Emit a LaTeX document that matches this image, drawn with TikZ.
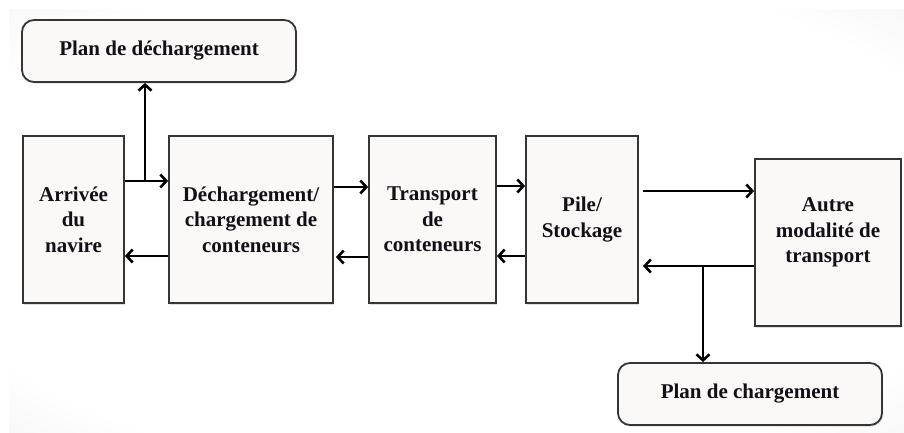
\documentclass[tikz,border=0pt]{standalone}
\usepackage{fontspec}
\setmainfont{Liberation Serif}
\usetikzlibrary{arrows.meta,shadows}
\pgfdeclareradialshading{pagebg}{\pgfpoint{0bp}{0bp}}{%
  color(0bp)=(white); color(30bp)=(white); color(50bp)=(black!10); color(72bp)=(black!18)}
\definecolor{boxfill}{HTML}{FBF9F8}
\definecolor{boxline}{HTML}{353535}
\definecolor{ink}{HTML}{101016}
\tikzset{
  stage/.style={draw=boxline, line width=1.8pt, fill=boxfill, align=center,
    font=\fontsize{21}{25.5}\selectfont\bfseries, text=ink, inner sep=0pt,
    drop shadow={shadow xshift=1.2pt, shadow yshift=-1.6pt, opacity=0.25}},
  planbox/.style={stage, rounded corners=12pt},
  flow/.style={draw=black, line width=2.8pt,
    -{Straight Barb[length=6pt,width=13pt,line width=2.6pt]}},
  caption/.style={align=center, font=\fontsize{21}{25.5}\selectfont\bfseries, text=ink, inner sep=0pt}
}
\begin{document}
\begin{tikzpicture}[x=1pt,y=-1pt]
  % page and soft background
  \useasboundingbox (0,0) rectangle (904,433);
  \fill[white] (0,0) rectangle (904,433);
  \shade[shading=pagebg] (9,10) rectangle (904,433);

  % process stages
  \node[stage, minimum width=101pt, minimum height=167pt] (arr) at (73.5,219.5)
    {Arrivée\\du\\navire};
  \node[stage, minimum width=164pt, minimum height=167pt] (dech) at (251,219.5)
    {Déchargement/\\chargement de\\conteneurs};
  \node[stage, minimum width=127pt, minimum height=167pt] (trans) at (432.5,219.5)
    {Transport\\de\\conteneurs};
  \node[stage, minimum width=112pt, minimum height=167pt] (pile) at (582,219.5)
    {Pile/\\Stockage};
  \node[stage, minimum width=146pt, minimum height=167pt] (autre) at (828,242.5) {};
  \node[caption] (autreTxt) at (828,232.5) {Autre\\modalité de\\transport};

  % plans
  \node[planbox, minimum width=274pt, minimum height=62pt] (pdec) at (159,51)
    {Plan de déchargement};
  \node[planbox, minimum width=264pt, minimum height=62pt] (pch) at (750,394)
    {Plan de chargement};

  % junction points of the branching connectors
  \coordinate (jdec) at (145,181);
  \coordinate (jch) at (703,266);
  \coordinate (pileOut) at (643,191);
  \coordinate (pileIn) at (643,266);

  % forward flow
  \draw[flow] (arr.east |- jdec) -- (dech.west |- jdec);
  \draw[flow] (jdec) -- (jdec |- pdec.south);
  \draw[flow] (dech.east |- 0,187) -- (trans.west |- 0,187);
  \draw[flow] (trans.east |- 0,186) -- (pile.west |- 0,186);
  \draw[flow] (pileOut) -- (autre.west |- pileOut);

  % return flow
  \draw[flow] (autre.west |- jch) -- (pileIn);
  \draw[flow] (jch) -- (jch |- pch.north);
  \draw[flow] (pile.west |- 0,256) -- (trans.east |- 0,256);
  \draw[flow] (trans.west |- 0,257) -- ([xshift=2pt]dech.east |- 0,257);
  \draw[flow] (dech.west |- 0,256) -- (arr.east |- 0,256);
\end{tikzpicture}
\end{document}
